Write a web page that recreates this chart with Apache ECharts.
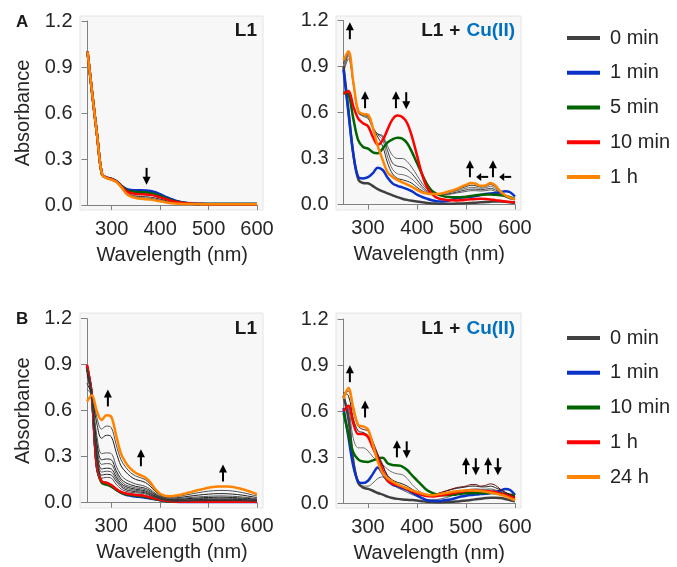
<!DOCTYPE html>
<html>
<head>
<meta charset="utf-8">
<script src="https://cdn.jsdelivr.net/npm/echarts@6/dist/echarts.min.js"></script>
<style>
html,body{margin:0;padding:0;background:#fff}
#chart{width:677px;height:567px}
</style>
</head>
<body>
<div id="chart"></div>
<script>
// Wavelength grid shared by every spectrum (nm)
const wavelengths = [250,260,270,280,290,300,310,320,330,340,350,360,370,380,390,400,410,420,430,440,450,460,470,480,490,500,510,520,530,540,550,560,570,580,590,600];

// Panel A, L1 alone
const aL1_0min  = [1.00,0.72,0.45,0.20,0.178,0.170,0.155,0.125,0.100,0.092,0.090,0.090,0.089,0.086,0.078,0.066,0.052,0.040,0.028,0.020,0.014,0.010,0.008,0.007,0.006,0.006,0.006,0.006,0.006,0.006,0.006,0.006,0.006,0.006,0.006,0.006];
const aL1_1min  = [1.00,0.72,0.45,0.20,0.178,0.170,0.155,0.125,0.105,0.098,0.096,0.096,0.095,0.092,0.083,0.070,0.055,0.042,0.030,0.021,0.015,0.011,0.009,0.008,0.007,0.006,0.006,0.006,0.006,0.006,0.006,0.006,0.006,0.006,0.006,0.006];
const aL1_5min  = [1.00,0.72,0.45,0.20,0.177,0.168,0.153,0.123,0.098,0.088,0.084,0.083,0.082,0.079,0.071,0.060,0.047,0.035,0.025,0.018,0.013,0.010,0.008,0.007,0.006,0.006,0.006,0.006,0.006,0.006,0.006,0.006,0.006,0.006,0.006,0.006];
const aL1_10min = [1.00,0.72,0.45,0.20,0.177,0.167,0.152,0.120,0.090,0.078,0.072,0.070,0.069,0.066,0.059,0.050,0.040,0.030,0.022,0.016,0.012,0.009,0.007,0.006,0.006,0.005,0.005,0.005,0.005,0.005,0.005,0.005,0.005,0.005,0.005,0.005];
const aL1_1h    = [1.00,0.72,0.45,0.20,0.175,0.165,0.150,0.115,0.075,0.055,0.045,0.040,0.038,0.035,0.030,0.024,0.018,0.013,0.010,0.008,0.007,0.006,0.006,0.006,0.005,0.005,0.005,0.005,0.005,0.005,0.005,0.005,0.005,0.005,0.005,0.005];
const aL1_mid1  = [1.00,0.72,0.45,0.20,0.176,0.166,0.151,0.118,0.082,0.066,0.058,0.055,0.054,0.051,0.045,0.038,0.030,0.022,0.016,0.012,0.009,0.007,0.006,0.006,0.006,0.005,0.005,0.005,0.005,0.005,0.005,0.005,0.005,0.005,0.005,0.005];
const aL1_mid2  = [1.00,0.72,0.45,0.20,0.176,0.166,0.151,0.117,0.078,0.060,0.051,0.047,0.046,0.043,0.038,0.031,0.024,0.018,0.013,0.010,0.008,0.007,0.006,0.006,0.005,0.005,0.005,0.005,0.005,0.005,0.005,0.005,0.005,0.005,0.005,0.005];

// Panel A, L1 + Cu(II)
const aCu_0min  = [0.90,0.62,0.33,0.165,0.140,0.138,0.120,0.100,0.085,0.072,0.060,0.048,0.038,0.030,0.024,0.019,0.014,0.010,0.007,0.006,0.005,0.005,0.005,0.006,0.007,0.008,0.010,0.012,0.014,0.016,0.018,0.020,0.020,0.018,0.014,0.010];
const aCu_1min  = [0.88,0.60,0.33,0.180,0.170,0.178,0.205,0.240,0.225,0.175,0.138,0.122,0.112,0.100,0.085,0.065,0.050,0.038,0.028,0.022,0.020,0.022,0.030,0.040,0.045,0.048,0.050,0.055,0.062,0.068,0.072,0.075,0.080,0.087,0.080,0.052];
const aCu_5min  = [0.73,0.72,0.56,0.420,0.375,0.365,0.340,0.335,0.365,0.405,0.425,0.435,0.430,0.400,0.340,0.270,0.200,0.135,0.090,0.070,0.058,0.050,0.047,0.047,0.048,0.050,0.055,0.060,0.063,0.065,0.065,0.063,0.060,0.055,0.047,0.037];
const aCu_10min = [0.72,0.74,0.64,0.560,0.530,0.510,0.440,0.390,0.420,0.490,0.555,0.580,0.570,0.530,0.440,0.320,0.200,0.115,0.070,0.045,0.035,0.030,0.027,0.026,0.028,0.031,0.034,0.036,0.037,0.036,0.033,0.028,0.024,0.020,0.017,0.015];
const aCu_1h    = [0.94,1.00,0.80,0.610,0.590,0.585,0.500,0.380,0.290,0.210,0.180,0.160,0.145,0.130,0.115,0.095,0.080,0.072,0.068,0.068,0.072,0.080,0.090,0.100,0.115,0.128,0.140,0.135,0.122,0.125,0.140,0.125,0.085,0.060,0.045,0.035];
const aCu_mid1  = [0.86,0.95,0.78,0.600,0.575,0.560,0.500,0.460,0.450,0.380,0.320,0.300,0.300,0.280,0.240,0.190,0.140,0.100,0.080,0.070,0.065,0.065,0.068,0.075,0.080,0.085,0.090,0.090,0.088,0.090,0.095,0.085,0.070,0.050,0.035,0.030];
const aCu_mid2  = [0.88,0.97,0.79,0.600,0.580,0.570,0.500,0.460,0.440,0.350,0.270,0.250,0.245,0.230,0.200,0.160,0.120,0.090,0.075,0.068,0.066,0.068,0.073,0.080,0.088,0.095,0.100,0.100,0.096,0.100,0.105,0.095,0.075,0.055,0.040,0.032];
const aCu_mid3  = [0.90,0.98,0.80,0.610,0.585,0.575,0.500,0.455,0.420,0.310,0.230,0.200,0.195,0.185,0.165,0.135,0.105,0.083,0.072,0.067,0.068,0.072,0.080,0.088,0.097,0.106,0.112,0.110,0.105,0.110,0.118,0.105,0.080,0.058,0.042,0.033];
const aCu_mid4  = [0.92,0.99,0.80,0.610,0.588,0.580,0.500,0.440,0.380,0.270,0.200,0.170,0.162,0.152,0.138,0.112,0.090,0.076,0.069,0.067,0.070,0.076,0.085,0.094,0.106,0.117,0.126,0.122,0.114,0.118,0.130,0.115,0.083,0.059,0.043,0.034];

// Panel B, L1 alone
const bL1_0min  = [0.89,0.70,0.25,0.140,0.128,0.112,0.088,0.068,0.058,0.052,0.048,0.045,0.040,0.033,0.025,0.018,0.012,0.009,0.007,0.006,0.006,0.006,0.006,0.006,0.006,0.006,0.006,0.006,0.006,0.006,0.006,0.006,0.006,0.006,0.006,0.006];
const bL1_1min  = [0.89,0.69,0.24,0.135,0.125,0.110,0.085,0.065,0.052,0.045,0.040,0.037,0.033,0.028,0.022,0.016,0.011,0.008,0.006,0.005,0.005,0.005,0.005,0.005,0.005,0.005,0.005,0.005,0.005,0.005,0.005,0.005,0.005,0.005,0.005,0.005];
const bL1_10min = [0.88,0.70,0.245,0.130,0.118,0.105,0.085,0.066,0.056,0.050,0.046,0.043,0.038,0.031,0.024,0.017,0.012,0.008,0.006,0.006,0.006,0.006,0.006,0.006,0.006,0.006,0.006,0.006,0.006,0.006,0.006,0.006,0.006,0.006,0.006,0.006];
const bL1_1h    = [0.90,0.70,0.25,0.140,0.130,0.115,0.090,0.070,0.060,0.055,0.050,0.048,0.043,0.035,0.027,0.020,0.014,0.010,0.008,0.007,0.007,0.007,0.007,0.007,0.007,0.007,0.007,0.007,0.007,0.007,0.007,0.007,0.007,0.007,0.007,0.007];
const bL1_24h   = [0.66,0.70,0.60,0.540,0.570,0.560,0.440,0.320,0.260,0.220,0.195,0.180,0.165,0.135,0.090,0.060,0.045,0.042,0.045,0.050,0.058,0.066,0.075,0.083,0.090,0.097,0.102,0.105,0.106,0.105,0.102,0.096,0.088,0.078,0.067,0.055];
const bL1_mid = [
  [0.88,0.70,0.28,0.16,0.165,0.16,0.12,0.090,0.075,0.068,0.064,0.062,0.057,0.046,0.034,0.024,0.017,0.012,0.010,0.010,0.010,0.011,0.011,0.012,0.012,0.013,0.013,0.013,0.013,0.013,0.013,0.012,0.012,0.011,0.011,0.010],
  [0.87,0.70,0.30,0.18,0.185,0.18,0.14,0.105,0.085,0.077,0.072,0.069,0.064,0.052,0.038,0.027,0.019,0.014,0.012,0.012,0.013,0.013,0.014,0.015,0.015,0.016,0.016,0.016,0.016,0.016,0.016,0.015,0.015,0.014,0.013,0.012],
  [0.87,0.70,0.32,0.20,0.205,0.20,0.155,0.115,0.095,0.086,0.080,0.076,0.070,0.057,0.042,0.030,0.021,0.016,0.014,0.014,0.015,0.016,0.017,0.018,0.019,0.019,0.020,0.020,0.020,0.020,0.019,0.019,0.018,0.017,0.016,0.014],
  [0.86,0.70,0.34,0.22,0.225,0.22,0.17,0.125,0.105,0.095,0.088,0.083,0.077,0.063,0.046,0.033,0.023,0.018,0.016,0.017,0.018,0.019,0.020,0.021,0.022,0.023,0.024,0.024,0.024,0.024,0.023,0.022,0.021,0.020,0.018,0.016],
  [0.85,0.70,0.37,0.25,0.255,0.25,0.19,0.140,0.115,0.105,0.097,0.092,0.085,0.070,0.051,0.036,0.026,0.020,0.019,0.020,0.021,0.023,0.024,0.026,0.027,0.028,0.029,0.029,0.029,0.029,0.028,0.027,0.025,0.023,0.021,0.019],
  [0.84,0.70,0.40,0.28,0.285,0.28,0.21,0.155,0.130,0.117,0.107,0.101,0.094,0.078,0.056,0.040,0.029,0.023,0.022,0.023,0.025,0.027,0.029,0.031,0.033,0.034,0.035,0.036,0.036,0.035,0.034,0.032,0.030,0.028,0.025,0.022],
  [0.82,0.70,0.44,0.32,0.325,0.32,0.24,0.180,0.150,0.135,0.122,0.115,0.106,0.088,0.063,0.044,0.032,0.026,0.025,0.027,0.030,0.033,0.036,0.038,0.040,0.042,0.043,0.044,0.044,0.043,0.042,0.040,0.037,0.034,0.030,0.026],
  [0.78,0.70,0.52,0.42,0.440,0.43,0.33,0.240,0.200,0.170,0.152,0.143,0.132,0.108,0.075,0.051,0.037,0.032,0.031,0.034,0.038,0.042,0.046,0.050,0.053,0.056,0.058,0.059,0.059,0.058,0.056,0.053,0.049,0.044,0.039,0.033],
  [0.74,0.70,0.56,0.48,0.500,0.49,0.38,0.280,0.230,0.195,0.175,0.163,0.150,0.122,0.083,0.056,0.041,0.037,0.038,0.042,0.048,0.054,0.060,0.066,0.071,0.075,0.078,0.080,0.080,0.079,0.076,0.072,0.066,0.059,0.051,0.043]
];

// Panel B, L1 + Cu(II)
const bCu_0min  = [0.70,0.55,0.27,0.130,0.100,0.092,0.080,0.065,0.055,0.042,0.033,0.027,0.023,0.021,0.019,0.016,0.012,0.008,0.006,0.005,0.005,0.006,0.008,0.010,0.013,0.016,0.020,0.024,0.028,0.032,0.035,0.035,0.032,0.026,0.018,0.012];
const bCu_1min  = [0.62,0.43,0.24,0.140,0.130,0.145,0.190,0.232,0.190,0.145,0.120,0.108,0.097,0.085,0.068,0.050,0.032,0.018,0.014,0.013,0.015,0.019,0.025,0.033,0.042,0.048,0.052,0.055,0.058,0.060,0.065,0.072,0.080,0.092,0.085,0.052];
const bCu_10min = [0.59,0.45,0.33,0.285,0.270,0.268,0.278,0.290,0.295,0.260,0.248,0.245,0.238,0.215,0.180,0.148,0.115,0.085,0.068,0.056,0.050,0.050,0.053,0.056,0.060,0.063,0.065,0.066,0.066,0.065,0.065,0.064,0.061,0.058,0.054,0.050];
const bCu_1h    = [0.60,0.635,0.52,0.450,0.450,0.430,0.360,0.290,0.210,0.145,0.125,0.115,0.105,0.090,0.077,0.064,0.052,0.045,0.042,0.045,0.050,0.056,0.062,0.068,0.073,0.078,0.080,0.080,0.079,0.077,0.075,0.070,0.062,0.052,0.042,0.032];
const bCu_24h   = [0.68,0.75,0.62,0.510,0.500,0.480,0.380,0.270,0.195,0.160,0.140,0.122,0.108,0.095,0.082,0.072,0.062,0.054,0.050,0.054,0.060,0.066,0.072,0.076,0.080,0.082,0.082,0.080,0.078,0.074,0.068,0.062,0.054,0.045,0.032,0.018];
const bCu_mid1  = [0.66,0.62,0.42,0.360,0.360,0.340,0.300,0.270,0.250,0.220,0.200,0.190,0.185,0.160,0.120,0.090,0.065,0.050,0.045,0.045,0.050,0.055,0.060,0.070,0.080,0.085,0.090,0.092,0.090,0.090,0.092,0.085,0.075,0.065,0.055,0.045];
const bCu_mid2  = [0.70,0.73,0.60,0.500,0.480,0.470,0.400,0.320,0.250,0.170,0.135,0.115,0.100,0.085,0.070,0.058,0.050,0.047,0.050,0.060,0.070,0.080,0.090,0.100,0.105,0.110,0.120,0.120,0.110,0.115,0.125,0.115,0.090,0.070,0.055,0.040];
const bCu_mid3  = [0.72,0.70,0.55,0.470,0.460,0.440,0.380,0.310,0.240,0.180,0.150,0.135,0.125,0.110,0.090,0.070,0.055,0.048,0.050,0.058,0.068,0.078,0.088,0.095,0.100,0.105,0.110,0.110,0.105,0.105,0.110,0.100,0.085,0.070,0.055,0.040];
const bCu_mid4  = [0.68,0.60,0.30,0.140,0.110,0.110,0.130,0.160,0.170,0.140,0.120,0.100,0.085,0.070,0.055,0.042,0.030,0.022,0.020,0.022,0.028,0.035,0.045,0.055,0.065,0.075,0.080,0.085,0.085,0.085,0.085,0.080,0.070,0.060,0.050,0.040];

// Direction arrows marking the spectral changes: [wavelength, absorbance, direction]
// direction: 0 = up, 1 = down, 2 = left
const arrowsA_L1 = [[372, 0.19, 1]];
const arrowsA_Cu = [[263, 1.13, 0], [294, 0.68, 0], [357, 0.68, 0], [378, 0.68, 1], [508, 0.23, 0], [533, 0.18, 2], [555, 0.23, 0], [580, 0.18, 2]];
const arrowsB_L1 = [[293, 0.68, 0], [361, 0.29, 0], [530, 0.19, 0]];
const arrowsB_Cu = [[263, 0.84, 0], [294, 0.61, 0], [359, 0.35, 0], [379, 0.35, 1], [500, 0.24, 0], [520, 0.24, 1], [545, 0.24, 0], [565, 0.24, 1]];

// Legend labels for the two rows
const legendA = ['0 min', '1 min', '5 min', '10 min', '1 h'];
const legendB = ['0 min', '1 min', '10 min', '1 h', '24 h'];
const tickLabels = ['0.0', '0.3', '0.6', '0.9', '1.2'];

const C_GRAY = '#404040', C_BLUE = '#0a32c8', C_GREEN = '#006400', C_RED = '#ff0000', C_ORANGE = '#ff8400';
const FONT = "'Liberation Sans', Arial, sans-serif";

function pairs(vals) { return wavelengths.map((w, i) => [w, vals[i]]); }

function spectrum(name, vals, idx, color, width) {
  return {
    type: 'line', name: name, xAxisIndex: idx, yAxisIndex: idx,
    data: pairs(vals), showSymbol: false, symbol: 'none', smooth: 0.35,
    color: color, lineStyle: { color: color, width: width },
    emphasis: { disabled: true }, silent: true, animation: false
  };
}
function thin(vals, idx, color) {
  return spectrum('', vals, idx, color, 1);
}

function arrowSeries(list, idx) {
  return {
    type: 'custom', xAxisIndex: idx, yAxisIndex: idx, data: list, silent: true, animation: false, clip: false, z: 10,
    encode: { x: 0, y: 1 },
    renderItem: function (params, api) {
      const p = api.coord([api.value(0), api.value(1)]);
      const dir = api.value(2);
      const x = p[0], y = p[1];
      const st = { fill: '#000', stroke: '#000', lineWidth: 0 };
      if (dir === 2) {
        return { type: 'group', children: [
          { type: 'line', shape: { x1: x + 6, y1: y, x2: x - 1, y2: y }, style: { stroke: '#000', lineWidth: 2 } },
          { type: 'polygon', shape: { points: [[x - 6, y], [x - 1, y - 4], [x - 1, y + 4]] }, style: st }
        ] };
      }
      const s = dir === 0 ? -1 : 1;
      return { type: 'group', children: [
        { type: 'line', shape: { x1: x, y1: y - 8 * s, x2: x, y2: y + 2 * s }, style: { stroke: '#000', lineWidth: 2 } },
        { type: 'polygon', shape: { points: [[x, y + 9 * s], [x - 4, y + 1 * s], [x + 4, y + 1 * s]] }, style: st }
      ] };
    }
  };
}

const grids = [
  { left: 87.5, top: 21, width: 169.5, height: 184 },
  { left: 343.5, top: 20.5, width: 171.5, height: 184 },
  { left: 87, top: 318.7, width: 170, height: 184 },
  { left: 343.5, top: 319, width: 171.5, height: 184 }
];

const axisLineStyle = { show: true, lineStyle: { color: '#808080', width: 1 } };

const xAxes = grids.map((g, i) => ({
  type: 'value', gridIndex: i, min: 250, max: 600,
  name: 'Wavelength (nm)', nameLocation: 'middle', nameGap: 40,
  nameTextStyle: { fontFamily: FONT, fontSize: 20, color: '#262626' },
  axisLine: axisLineStyle,
  axisTick: { show: true, length: 5, lineStyle: { color: '#808080' } },
  axisLabel: { showMinLabel: false, fontFamily: FONT, fontSize: 20, color: '#262626', margin: 14 },
  splitLine: { show: false }
}));

const yAxes = grids.map((g, i) => ({
  type: 'value', gridIndex: i, min: 0, max: 1.2, interval: 0.3,
  name: (i % 2 === 0) ? 'Absorbance' : '', nameLocation: 'middle', nameGap: 54,
  nameTextStyle: { fontFamily: FONT, fontSize: 20, color: '#262626' },
  axisLine: axisLineStyle,
  axisTick: { show: true, length: 6, lineStyle: { color: '#808080' } },
  axisLabel: { fontFamily: FONT, fontSize: 20, color: '#262626', margin: 15,
    formatter: v => tickLabels[Math.round(v / 0.3)] },
  splitLine: { show: false }
}));

const series = [
  // A, L1
  thin(aL1_mid1, 0, '#303030'), thin(aL1_mid2, 0, '#505050'),
  spectrum('A:0 min', aL1_0min, 0, C_GRAY, 2.5),
  spectrum('A:1 min', aL1_1min, 0, C_BLUE, 2.5),
  spectrum('A:5 min', aL1_5min, 0, C_GREEN, 2.5),
  spectrum('A:10 min', aL1_10min, 0, C_RED, 2.5),
  spectrum('A:1 h', aL1_1h, 0, C_ORANGE, 2.5),
  // A, L1 + Cu(II)
  thin(aCu_mid1, 1, '#606060'), thin(aCu_mid2, 1, '#404040'), thin(aCu_mid3, 1, '#707070'), thin(aCu_mid4, 1, '#303030'),
  spectrum('A:0 min', aCu_0min, 1, C_GRAY, 2.5),
  spectrum('A:1 min', aCu_1min, 1, C_BLUE, 2.5),
  spectrum('A:5 min', aCu_5min, 1, C_GREEN, 2.5),
  spectrum('A:10 min', aCu_10min, 1, C_RED, 2.5),
  spectrum('A:1 h', aCu_1h, 1, C_ORANGE, 2.5),
  // B, L1
  spectrum('B:0 min', bL1_0min, 2, C_GRAY, 2.5),
  spectrum('B:1 min', bL1_1min, 2, C_BLUE, 2.5),
  spectrum('B:10 min', bL1_10min, 2, C_GREEN, 2.5),
  spectrum('B:1 h', bL1_1h, 2, C_RED, 2.5),
  ...bL1_mid.map((v, k) => thin(v, 2, k % 2 ? '#202020' : '#505050')),
  spectrum('B:24 h', bL1_24h, 2, C_ORANGE, 2.5),
  // B, L1 + Cu(II)
  thin(bCu_mid1, 3, '#707070'), thin(bCu_mid4, 3, '#606060'),
  spectrum('B:0 min', bCu_0min, 3, C_GRAY, 2.5),
  spectrum('B:1 min', bCu_1min, 3, C_BLUE, 2.5),
  spectrum('B:10 min', bCu_10min, 3, C_GREEN, 2.5),
  thin(bCu_mid3, 3, '#202020'), thin(bCu_mid2, 3, '#6a1010'),
  spectrum('B:1 h', bCu_1h, 3, C_RED, 2.5),
  spectrum('B:24 h', bCu_24h, 3, C_ORANGE, 2.5),
  arrowSeries(arrowsA_L1, 0), arrowSeries(arrowsA_Cu, 1),
  arrowSeries(arrowsB_L1, 2), arrowSeries(arrowsB_Cu, 3)
];

function legendBlock(prefix, labels, top) {
  return {
    orient: 'vertical', left: 567, top: top, padding: 0,
    icon: 'rect', itemWidth: 33, itemHeight: 4, itemGap: 14.75,
    selectedMode: false,
    data: labels.map(l => prefix + l),
    formatter: n => n.slice(2),
    textStyle: { fontFamily: FONT, fontSize: 20, color: '#262626', lineHeight: 20, padding: [0, 0, 0, 5] }
  };
}

const titleStyle = { fontFamily: FONT, fontSize: 19, fontWeight: 'bold', color: '#1a1a1a' };
const richCu = {
  a: { fontFamily: FONT, fontSize: 19, fontWeight: 'bold', color: '#1a1a1a' },
  b: { fontFamily: FONT, fontSize: 19, color: '#1a1a1a', padding: [0, 6, 0, 6] },
  c: { fontFamily: FONT, fontSize: 19, fontWeight: 'bold', color: '#0070c0' }
};

const option = {
  backgroundColor: '#ffffff',
  animation: false,
  textStyle: { fontFamily: FONT },
  graphic: [
    { type: 'rect', z: -10, silent: true, shape: { x: 80, y: 16, width: 183, height: 194 }, style: { fill: '#f7f7f7', stroke: '#e4e4e4', lineWidth: 1 } },
    { type: 'rect', z: -10, silent: true, shape: { x: 336, y: 16, width: 185, height: 194 }, style: { fill: '#f7f7f7', stroke: '#e4e4e4', lineWidth: 1 } },
    { type: 'rect', z: -10, silent: true, shape: { x: 80, y: 313, width: 183, height: 195 }, style: { fill: '#f7f7f7', stroke: '#e4e4e4', lineWidth: 1 } },
    { type: 'rect', z: -10, silent: true, shape: { x: 336, y: 313, width: 185, height: 195 }, style: { fill: '#f7f7f7', stroke: '#e4e4e4', lineWidth: 1 } }
  ],
  title: [
    { text: 'A', left: 16, top: 14, padding: 0, textStyle: { fontFamily: FONT, fontSize: 17, fontWeight: 'bold', color: '#1a1a1a' } },
    { text: 'B', left: 16, top: 311, padding: 0, textStyle: { fontFamily: FONT, fontSize: 17, fontWeight: 'bold', color: '#1a1a1a' } },
    { text: 'L1', right: 420, top: 21, padding: 0, textStyle: titleStyle },
    { text: '{a|L1}{b|+}{c|Cu(II)}', right: 162, top: 21, padding: 0, textStyle: { rich: richCu } },
    { text: 'L1', right: 420, top: 319, padding: 0, textStyle: titleStyle },
    { text: '{a|L1}{b|+}{c|Cu(II)}', right: 162, top: 319, padding: 0, textStyle: { rich: richCu } }
  ],
  legend: [legendBlock('A:', legendA, 28), legendBlock('B:', legendB, 328)],
  grid: grids,
  xAxis: xAxes,
  yAxis: yAxes,
  series: series
};

const chart = echarts.init(document.getElementById('chart'), null, { renderer: 'canvas' });
chart.setOption(option);
</script>
</body>
</html>
